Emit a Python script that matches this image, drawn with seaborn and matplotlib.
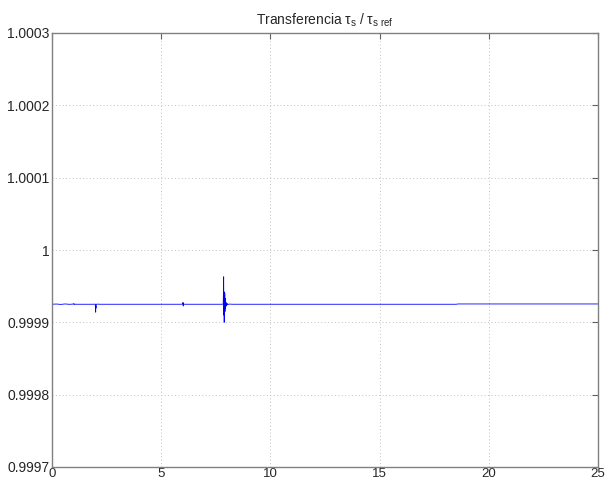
import matplotlib
matplotlib.use("Agg")
import matplotlib.pyplot as plt
import seaborn as sns
import pandas as pd

# Time samples (s) and transfer ratio tau_s / tau_s_ref
time_s = [0.0, 0.2, 0.4, 0.6, 0.8, 0.95, 0.98, 1.0, 1.01, 1.03, 1.1,
          1.9, 1.98, 2.0, 2.005, 2.01, 2.02, 2.05, 2.2,
          5.9, 5.98, 6.0, 6.01, 6.02, 6.05, 6.2,
          7.8, 7.84, 7.86, 7.87, 7.88, 7.885, 7.89, 7.9, 7.91, 7.92, 7.93,
          7.94, 7.95, 7.96, 7.98, 8.0, 8.02, 8.05, 8.1, 8.3,
          18.5, 18.6, 25.0]
ratio = [0.999925, 0.9999253, 0.9999248, 0.9999254, 0.9999249, 0.9999252, 0.9999256,
         0.9999258, 0.9999246, 0.9999252, 0.999925,
         0.999925, 0.9999252, 0.9999140, 0.9999230, 0.9999195, 0.9999245, 0.9999252, 0.999925,
         0.999925, 0.9999252, 0.9999275, 0.9999225, 0.9999258, 0.9999250, 0.999925,
         0.999925, 0.9999255, 0.9999630, 0.9999100, 0.9999370, 0.9999000, 0.9999420,
         0.9999080, 0.9999400, 0.9999150, 0.9999330, 0.9999190, 0.9999290, 0.9999220,
         0.9999270, 0.9999235, 0.9999262, 0.9999245, 0.9999252, 0.999925,
         0.999925, 0.9999254, 0.9999254]

df = pd.DataFrame({"t": time_s, "ratio": ratio})

sns.set_style("white")
plt.rcParams["font.family"] = ["Liberation Sans", "DejaVu Sans"]
plt.rcParams["mathtext.fontset"] = "custom"
plt.rcParams["mathtext.rm"] = "Liberation Sans"
plt.rcParams["mathtext.it"] = "Liberation Sans"

fig = plt.figure(figsize=(6.05, 4.82), dpi=100)
ax = fig.add_axes([52 / 605, 15 / 482, 546 / 605, 434 / 482])

sns.lineplot(data=df, x="t", y="ratio", ax=ax, color="#0000ff", lw=0.6,
             estimator=None, sort=False)

ax.set_xlim(0, 25)
ax.set_ylim(0.9997, 1.0003)
ax.set_xticks([0, 5, 10, 15, 20, 25])
ax.set_yticks([0.9997, 0.9998, 0.9999, 1.0, 1.0001, 1.0002, 1.0003])
ax.set_yticklabels(["0.9997", "0.9998", "0.9999", "1", "1.0001", "1.0002", "1.0003"])
ax.set_xlabel("")
ax.set_ylabel("")
ax.grid(True, color="#c0c0c0", linestyle=(0, (1, 2.5)), linewidth=0.7)
for sp in ax.spines.values():
    sp.set_color("#808080")
    sp.set_linewidth(1.0)
ax.tick_params(direction="in", length=4, color="#606060", labelsize=10,
               top=True, right=True, pad=2)
ax.tick_params(axis="x", labelsize=9.5, pad=0.5)
ax.set_title(r"Transferencia $\tau_s$ / $\tau_{s\ ref}$", fontsize=10, pad=6)

fig.savefig("out.png", dpi=100)
